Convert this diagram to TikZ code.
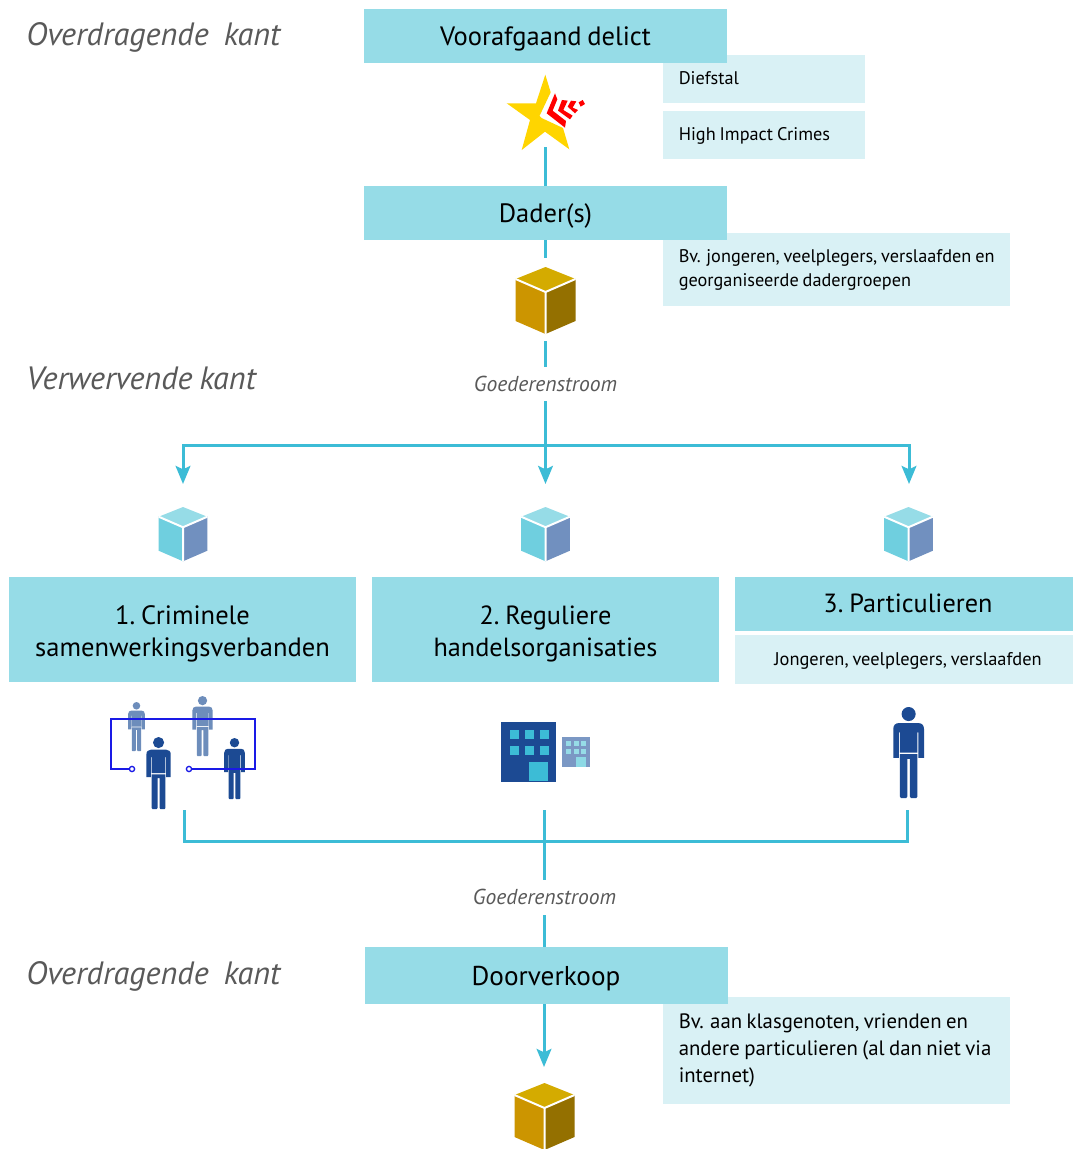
\documentclass[tikz,border=0pt]{standalone}
\usepackage{fontspec}
\setmainfont[WordSpace=0.8]{PT Sans}
\usetikzlibrary{arrows.meta}
\definecolor{dark}{HTML}{96DCE7}
\definecolor{light}{HTML}{D9F1F5}
\definecolor{flowc}{HTML}{3CBCD6}
\definecolor{navy}{HTML}{1C4A93}
\definecolor{faded}{HTML}{6D8DBB}
\definecolor{greyt}{HTML}{595959}
\definecolor{ringc}{HTML}{1A1AE6}
\definecolor{goldT}{HTML}{D4AB00}
\definecolor{goldL}{HTML}{CC9500}
\definecolor{goldR}{HTML}{947000}
\definecolor{blueL}{HTML}{6FCFDF}
\definecolor{blueR}{HTML}{7190BF}
\definecolor{smallb}{HTML}{7B98C4}
\definecolor{stary}{HTML}{FFD500}
\tikzset{
  darkbox/.style={fill=dark,draw=none,inner sep=0pt},
  lightbox/.style={fill=light,draw=none,inner sep=0pt},
  flow/.style={draw=flowc,line width=2.25pt},
  flowarrow/.style={flow,-{Stealth[length=13.5pt,width=11pt,inset=2.5pt]}},
  sidetitle/.style={anchor=west,inner sep=0pt,font=\itshape\fontsize{24.2}{28}\selectfont,text=greyt},
  goods/.style={inner sep=0pt,font=\itshape\fontsize{16.2}{19}\selectfont,text=greyt},
  lab/.style={anchor=west,inner sep=0pt,align=left,font=\fontsize{13.7}{18.2}\selectfont,text=black},
  title/.style={inner sep=0pt,align=center,text=black,font=\fontsize{19.9}{24}\selectfont},
}
% \figperson{cx}{top}{bottom}{colour}
\newcommand{\figperson}[4]{%
  \begin{scope}[shift={(#1,#2)},xscale={(#3-#2)/272},yscale={(#3-#2)/272}]
    \fill[#4] (1,21) circle (21);
    \fill[#4] (-45,152) -- (-45,66) .. controls (-45,54) and (-38,48) .. (-28,48) -- (30,48) .. controls (40,48) and (47,54) .. (47,66) -- (47,152) -- (30,152) -- (30,76) -- (27,76) -- (27,136) -- (-25,136) -- (-25,76) -- (-28,76) -- (-28,152) -- cycle;
    \fill[#4] (-25,141) -- (27,141) -- (27,268) -- (24,272) -- (8,272) -- (5,268) -- (5,155) -- (-3,155) -- (-3,268) -- (-6,272) -- (-22,272) -- (-25,268) -- cycle;
  \end{scope}}
% \figcube{cx}{top}{scale}{top colour}{left colour}{right colour}
\newcommand{\figcube}[6]{%
  \begin{scope}[shift={(#1,#2)},scale=#3]
    \fill[#4] (0,0) -- (30,12) -- (0,25) -- (-30,12) -- cycle;
    \fill[#5] (-30,12) -- (0,25) -- (0,67) -- (-30,54) -- cycle;
    \fill[#6] (30,12) -- (0,25) -- (0,67) -- (30,54) -- cycle;
    \draw[white,line width=1.5pt] (-30,12) -- (0,25) -- (30,12) (0,25) -- (0,67);
  \end{scope}}
\begin{document}
\begin{tikzpicture}[x=0.75pt,y=-0.75pt]
\useasboundingbox (0,0) rectangle (1073,1149);
\fill[white] (0,0) rectangle (1073,1149);

% side boxes
\fill[light] (663,55) rectangle (865,103);
\fill[light] (663,111) rectangle (865,159);
\fill[light] (663,233) rectangle (1010,306);
\fill[light] (663,997) rectangle (1010,1104);
\node[lab] (l1) at (678.5,78) {Diefstal};
\node[lab] (l2) at (678.5,136) {High Impact Crimes};
\node[lab] (l3) at (678.5,270) {Bv. jongeren, veelplegers, verslaafden en\\georganiseerde dadergroepen};
\node[lab,font=\fontsize{15.6}{20.2}\selectfont] (l4) at (678.5,1050.5) {Bv. aan klasgenoten, vrienden en\\andere particulieren (al dan niet via\\internet)};

% main boxes
\node[darkbox,minimum width=272.25pt,minimum height=40.5pt] (delict) at (545.5,36) {};
\node[darkbox,minimum width=272.25pt,minimum height=40.5pt] (dader) at (545.5,213) {};
\node[darkbox,minimum width=260.25pt,minimum height=78.75pt] (crim) at (182.5,629.5) {};
\node[darkbox,minimum width=260.25pt,minimum height=78.75pt] (regul) at (545.5,629.5) {};
\node[darkbox,minimum width=253.5pt,minimum height=40.5pt] (part) at (904,604) {};
\node[lightbox,minimum width=253.5pt,minimum height=36.75pt] (partsub) at (904,659) {};
\node[darkbox,minimum width=272.25pt,minimum height=42.75pt] (door) at (546.5,975.5) {};

\node[title] (delictt) at ([yshift=-2.2pt]delict.center) {Voorafgaand delict};
\node[title] (dadert) at ([yshift=-2.2pt]dader.center) {Dader(s)};
\node[title] (crimt) at ([yshift=-3.1pt]crim.center) {1.\hspace{-1.5pt} Criminele\\samenwerkingsverbanden};
\node[title,font=\fontsize{19.7}{24}\selectfont] (regult) at ([yshift=-3.1pt]regul.center) {2.\hspace{-1.5pt} Reguliere\\handelsorganisaties};
\node[title,font=\fontsize{19.7}{24}\selectfont] (partt) at (908,603.5) {3.\hspace{-1.5pt} Particulieren};
\node[lab,anchor=center,font=\fontsize{13.8}{16}\selectfont] (partsubt) at (908,660.5) {Jongeren, veelplegers, verslaafden};
\node[title,font=\fontsize{20.4}{24}\selectfont] (doort) at (546,978.5) {Doorverkoop};

% side titles
\node[sidetitle] (t1) at (26,37) {Overdragende\ \ \hspace{1pt}kant};
\node[sidetitle] (t2) at (26,378.5) {Verwervende kant};
\node[sidetitle] (t3) at (26,976) {Overdragende\ \ \hspace{1pt}kant};

% anchors of the connectors
\coordinate (starfoot) at (545.5,147);
\coordinate (daderfoot) at (545.5,258);
\coordinate (cubefoot) at (545.5,341);
\coordinate (hub) at (545.5,445);
\coordinate (hubL) at (183,445);
\coordinate (hubR) at (909,445);
\coordinate (tipL) at (183,484);
\coordinate (tipM) at (545.5,484);
\coordinate (tipR) at (909,484);
\coordinate (inL) at (184,810);
\coordinate (inM) at (544,810);
\coordinate (inR) at (907,810);
\coordinate (busL) at (184,841);
\coordinate (busR) at (907,841);
\coordinate (doorin) at (544,947);
\coordinate (doorout) at (544,1004);
\coordinate (tipD) at (544,1067);

\node[goods] (g1) at (545.5,384) {Goederenstroom};
\node[goods] (g2) at (544.5,897) {Goederenstroom};

% connectors
\draw[flow] (starfoot) -- (dader.north);
\draw[flow] (dader.south) -- (daderfoot);
\draw[flow] (cubefoot) -- (545.5,367);
\draw[flowarrow] (545.5,401) -- (tipM);
\draw[flowarrow] (hub) -- (hubL) -- (tipL);
\draw[flowarrow] (hub) -- (hubR) -- (tipR);
\draw[flow] (inL) -- (busL) -- (busR) -- (inR);
\draw[flow] (inM) -- (544,880);
\draw[flow] (544,915) -- (doorin);
\draw[flowarrow] (doorout) -- (tipD);

% star
\fill[stary] (545.3,74.7) -- (550.7,92.3) -- (539.5,116) -- (541.5,118) -- (563,128) -- (569.3,149.3) -- (545,131.7) -- (521.7,150) -- (530,120) -- (506.7,103.3) -- (536,103.3) -- cycle;
\begin{scope}[shift={(490,60)},scale=0.3333]
  \fill[red] (195,100) -- (202,118) -- (188,152) -- (228,183) -- (225,203) -- (170,160) -- cycle;
  \fill[red] (216,120) -- (233,122) -- (220,150) -- (248,167) -- (240,178) -- (204,152) -- cycle;
  \fill[red] (243,122) -- (259,124) -- (248,143) -- (264,150) -- (255,160) -- (233,140) -- cycle;
  \fill[red] (266,127) -- (278,120) -- (285,132) -- (272,140) -- cycle;
\end{scope}

% cubes
\figcube{545.5}{267}{1}{goldT}{goldL}{goldR}
\figcube{544.5}{1083}{1}{goldT}{goldL}{goldR}
\figcube{183}{507}{0.81}{dark}{blueL}{blueR}
\figcube{545.5}{507}{0.81}{dark}{blueL}{blueR}
\figcube{908.5}{507}{0.81}{dark}{blueL}{blueR}

% people
\figperson{136.3}{702}{751}{faded}
\figperson{202.3}{696}{756}{faded}
\figperson{158.3}{737}{809}{navy}
\figperson{234.3}{738}{799}{navy}
\figperson{908.3}{707}{798}{navy}
\coordinate (ringA) at (132,769);
\coordinate (ringB) at (189,769);
\draw[ringc,line width=1pt] (ringA) -- (111,769) -- (111,719) -- (255,719) -- (255,769) -- (ringB);
\filldraw[draw=ringc,fill=white,line width=1pt] (ringA) circle (2.6);
\filldraw[draw=ringc,fill=white,line width=1pt] (ringB) circle (2.6);

% buildings
\fill[navy] (501,722) rectangle (556,782);
\foreach \x in {510,525,540} \foreach \y in {730,746} \fill[flowc] (\x,\y) rectangle ++(9,9);
\fill[flowc] (529,762) rectangle (548,781);
\fill[smallb] (562,737) rectangle (590,767);
\foreach \x in {566,574,581} \foreach \y in {741,749} \fill[dark] (\x,\y) rectangle ++(5,5);
\fill[dark!90!flowc] (576,757) rectangle (586,767);
\end{tikzpicture}
\end{document}
